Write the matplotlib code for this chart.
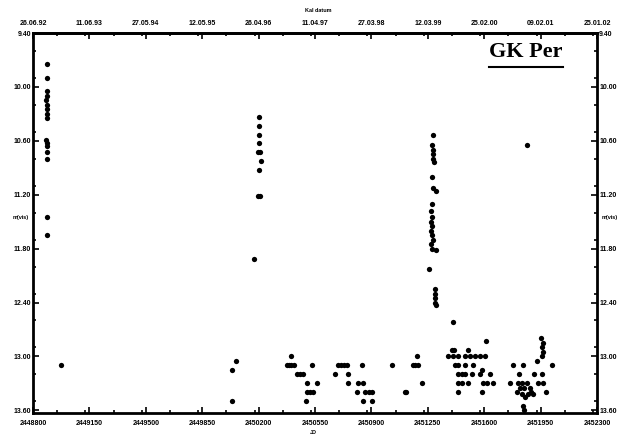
import matplotlib
matplotlib.use('Agg')
import matplotlib.pyplot as plt
from matplotlib.ticker import MultipleLocator
from matplotlib.lines import Line2D

# axis ticks: Julian date below, calendar date above, visual magnitude left/right
jd_ticks = [2448800, 2449150, 2449500, 2449850, 2450200, 2450550,
            2450900, 2451250, 2451600, 2451950, 2452300]
date_labels = ['26.06.92', '11.06.93', '27.05.94', '12.05.95', '26.04.96', '11.04.97',
               '27.03.98', '12.03.99', '25.02.00', '09.02.01', '25.01.02']
mag_ticks = [9.40, 10.00, 10.60, 11.20, 11.80, 12.40, 13.00, 13.60]

# 1992 outburst
jd_1992 = [2448887, 2448885, 2448884, 2448885, 2448883, 2448886, 2448884, 2448886, 2448884,
           2448883, 2448885, 2448886, 2448885, 2448888, 2448889, 2448889, 2448974]
mag_1992 = [9.75, 9.9, 10.05, 10.1, 10.15, 10.2, 10.25, 10.3, 10.35,
            10.59, 10.62, 10.66, 10.72, 10.8, 11.45, 11.65, 13.1]

# 1995-96 season with the 1996 outburst
jd_1996 = [2450035, 2450035, 2450060, 2450203, 2450203, 2450203, 2450203, 2450199,
           2450208, 2450215, 2450203, 2450196, 2450210, 2450172]
mag_1996 = [13.5, 13.15, 13.05, 10.33, 10.43, 10.53, 10.62, 10.72,
            10.72, 10.82, 10.92, 11.22, 11.22, 11.92]

# quiescence 1996-1999
jd_quiet = [2450401, 2450376, 2450389, 2450402, 2450420, 2450441, 2450457, 2450476,
            2450531, 2450500, 2450563, 2450500, 2450520, 2450540, 2450494,
            2450674, 2450693, 2450712, 2450730, 2450749, 2450755, 2450755,
            2450817, 2450848, 2450811, 2450860, 2450885, 2450904, 2450848, 2450904,
            2450842, 2451028, 2451106, 2451114,
            2451183, 2451158, 2451172, 2451192, 2451214]
mag_quiet = [13.0, 13.1, 13.1, 13.1, 13.1, 13.2, 13.2, 13.2,
             13.1, 13.3, 13.3, 13.4, 13.4, 13.4, 13.5,
             13.2, 13.1, 13.1, 13.1, 13.1, 13.2, 13.3,
             13.3, 13.3, 13.4, 13.4, 13.4, 13.4, 13.5, 13.5,
             13.1, 13.1, 13.4, 13.4,
             13.0, 13.1, 13.1, 13.1, 13.3]

# 1999 outburst
jd_1999 = [2451282, 2451278, 2451282, 2451280, 2451285, 2451289, 2451276, 2451282, 2451299,
           2451276, 2451272, 2451278, 2451271, 2451277, 2451272, 2451276, 2451281, 2451271,
           2451276, 2451299, 2451258, 2451295, 2451295, 2451295, 2451295, 2451300]
mag_1999 = [10.53, 10.65, 10.7, 10.75, 10.8, 10.84, 11.0, 11.12, 11.16,
            11.3, 11.38, 11.45, 11.5, 11.55, 11.6, 11.65, 11.7, 11.75,
            11.8, 11.82, 12.03, 12.25, 12.3, 12.35, 12.4, 12.43]

# decline and quiescence 1999-2000
jd_2000 = [2451407, 2451611, 2451398, 2451410, 2451500,
           2451375, 2451407, 2451438, 2451481, 2451512, 2451543, 2451574, 2451605,
           2451419, 2451438, 2451481, 2451531, 2451587,
           2451438, 2451462, 2451481, 2451524, 2451574, 2451636,
           2451438, 2451462, 2451500, 2451593, 2451618, 2451655,
           2451438, 2451587]
mag_2000 = [12.62, 12.83, 12.93, 12.93, 12.93,
            13.0, 13.0, 13.0, 13.0, 13.0, 13.0, 13.0, 13.0,
            13.1, 13.1, 13.1, 13.1, 13.15,
            13.2, 13.2, 13.2, 13.2, 13.2, 13.2,
            13.3, 13.3, 13.3, 13.3, 13.3, 13.3,
            13.4, 13.4]

# 2000-01 season
jd_2001 = [2451779, 2451841, 2451816, 2451760, 2451810, 2451822, 2451835, 2451847,
           2451866, 2451884, 2451909, 2451959, 2451934, 2451965, 2451804, 2451835,
           2451853, 2451872, 2451890, 2451903, 2451984, 2451841, 2451847, 2451928,
           2451952, 2451965, 2451958, 2451965, 2451959, 2452021, 2451866]
mag_2001 = [13.1, 13.1, 13.2, 13.3, 13.3, 13.35, 13.3, 13.35,
            13.3, 13.35, 13.2, 13.2, 13.3, 13.3, 13.4, 13.42,
            13.45, 13.42, 13.4, 13.42, 13.4, 13.55, 13.6, 13.05,
            12.8, 12.85, 12.9, 12.95, 13.0, 13.1, 10.65]

fontBold = {'family': 'Liberation Sans', 'weight': 'bold', 'size': 5}

fig = plt.figure(figsize=(6.28, 4.36), dpi=100)
ax = fig.add_axes([33/628, 1 - 413/436, 564/628, 380/436])

for jd, mag in [(jd_1992, mag_1992), (jd_1996, mag_1996), (jd_quiet, mag_quiet),
                (jd_1999, mag_1999), (jd_2000, mag_2000), (jd_2001, mag_2001)]:
    ax.plot(jd, mag, 'o', color='black', markersize=3.8, markeredgewidth=0, clip_on=False)

ax.set_xlim(jd_ticks[0], jd_ticks[-1])
ax.set_ylim(mag_ticks[-1] + 0.03, mag_ticks[0])

ax.set_xticks(jd_ticks)
ax.set_xticklabels([str(t) for t in jd_ticks], fontdict=fontBold)
ax.xaxis.set_minor_locator(MultipleLocator(175))
ax.set_yticks(mag_ticks)
ax.set_yticklabels(['%.2f' % t for t in mag_ticks], fontdict=fontBold)
ax.yaxis.set_minor_locator(MultipleLocator(0.3))

ax.tick_params(which='both', direction='in', top=True, right=True, labelright=True,
               width=1.2)
ax.tick_params(axis='y', pad=1.5)
ax.tick_params(axis='x', pad=5)
ax.tick_params(which='major', length=4)
ax.tick_params(which='minor', length=2.5)
for s in ax.spines.values():
    s.set_linewidth(2.0)

top = ax.secondary_xaxis('top')
top.set_xticks(jd_ticks)
top.set_xticklabels(date_labels, fontdict=fontBold)
top.tick_params(length=0, pad=4)
top.spines['top'].set_linewidth(2.0)

# axis titles
fig.text(318/628, 1 - 11/436, 'Kal datum', ha='center', va='center',
         family='Liberation Sans', weight='bold', fontsize=4)
fig.text(313/628, 1 - 432/436, 'JD', ha='center', va='center',
         family='Liberation Sans', weight='bold', fontsize=4)
ax.annotate('m(vis)', xy=(0, 11.45), xycoords=('axes fraction', 'data'),
            xytext=(-3, 0), textcoords='offset points', ha='right', va='center',
            family='Liberation Sans', weight='bold', fontsize=4)
ax.annotate('m(vis)', xy=(1, 11.45), xycoords=('axes fraction', 'data'),
            xytext=(3, 0), textcoords='offset points', ha='left', va='center',
            family='Liberation Sans', weight='bold', fontsize=4)

# star name, underlined
ax.text(0.874, 0.95, 'GK Per', transform=ax.transAxes, ha='center', va='center',
        family='Liberation Serif', weight='bold', fontsize=16)
ax.add_line(Line2D([0.808, 0.94], [0.91, 0.91], transform=ax.transAxes,
                   color='black', linewidth=1.5))

fig.savefig('out.png', dpi=100)
